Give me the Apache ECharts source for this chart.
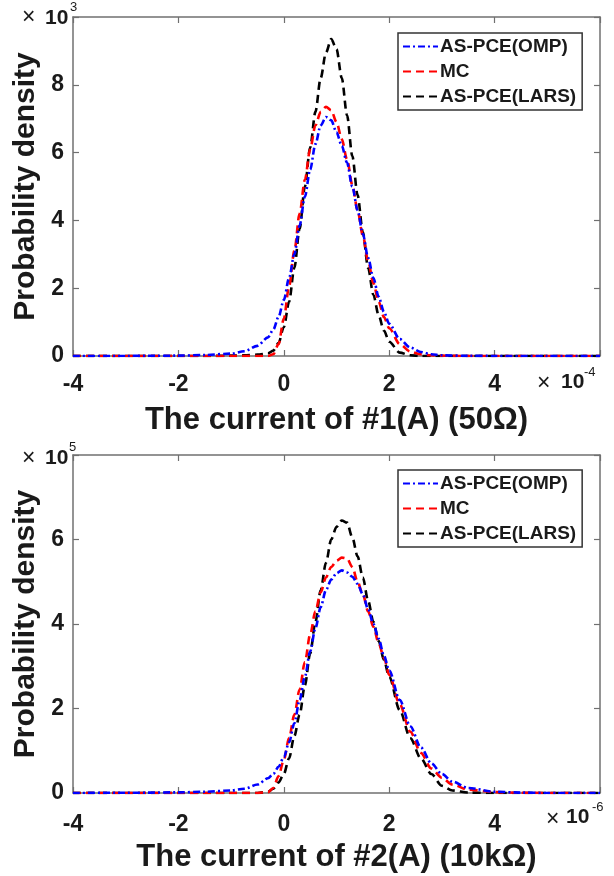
<!DOCTYPE html>
<html>
<head>
<meta charset="utf-8">
<script src="https://cdn.jsdelivr.net/npm/echarts@6/dist/echarts.min.js"></script>
<style>
  html, body { margin: 0; padding: 0; background: #fff; }
  #chart { width: 614px; height: 876px; }
</style>
</head>
<body>
<div id="chart"></div>
<script>
// x in units of 1e-4 A (top) and 1e-6 A (bottom); y in 1e3 / 1e5
const seriesNames = ['AS-PCE(OMP)', 'MC', 'AS-PCE(LARS)'];
const xTickLabels = [-4, -2, 0, 2, 4];
const yTickLabelsTop = [0, 2, 4, 6, 8];
const yTickLabelsBot = [0, 2, 4, 6];

// top plot: #1 (50Ω)
const xTop = [-4, -3, -2, -1.5, -1, -0.75, -0.5, -0.3, -0.2, -0.1,
  0, 0.1, 0.2, 0.3, 0.4, 0.5, 0.6, 0.7, 0.8, 0.9,
  1.0, 1.1, 1.2, 1.3, 1.4, 1.5, 1.6, 1.7, 1.8, 1.9,
  2.0, 2.2, 2.4, 2.6, 2.8, 3.0, 3.5, 4, 5, 6];
const ompTop = [0, 0.002, 0.01, 0.03, 0.07, 0.14, 0.3, 0.55, 0.78, 1.15,
  1.65, 2.3, 3.0, 3.85, 4.7, 5.5, 6.25, 6.8, 7.05, 6.95,
  6.6, 6.2, 5.7, 5.0, 4.3, 3.6, 2.9, 2.3, 1.75, 1.3,
  0.95, 0.5, 0.25, 0.12, 0.05, 0.02, 0.005, 0.002, 0, 0];
const mcTop = [0, 0, 0, 0, 0, 0, 0, 0, 0.05, 0.35,
  1.1, 2.05, 3.1, 4.2, 5.2, 6.1, 6.8, 7.2, 7.35, 7.25,
  6.9, 6.4, 5.8, 5.05, 4.3, 3.55, 2.8, 2.15, 1.6, 1.15,
  0.82, 0.35, 0.13, 0.05, 0.02, 0.01, 0, 0, 0, 0];
const larsTop = [0, 0, 0, 0, 0.01, 0.02, 0.04, 0.08, 0.16, 0.38,
  0.85, 1.6, 2.6, 3.75, 5.0, 6.15, 7.2, 8.2, 8.95, 9.35,
  9.05, 8.2, 7.1, 5.9, 4.75, 3.65, 2.6, 1.8, 1.2, 0.75,
  0.42, 0.1, 0.02, 0, 0, 0, 0, 0, 0, 0];

// bottom plot: #2 (10kΩ)
const xBot = [-4, -3, -2, -1.5, -1, -0.75, -0.5, -0.3, -0.2, -0.1,
  0, 0.1, 0.2, 0.3, 0.4, 0.5, 0.6, 0.7, 0.8, 0.9,
  1.0, 1.1, 1.2, 1.3, 1.4, 1.5, 1.6, 1.7, 1.8, 1.9,
  2.0, 2.2, 2.4, 2.6, 2.8, 3.0, 3.2, 3.5, 4, 4.5, 5, 6];
const ompBot = [0, 0.005, 0.015, 0.03, 0.06, 0.1, 0.2, 0.35, 0.45, 0.62,
  0.85, 1.2, 1.65, 2.2, 2.75, 3.35, 3.9, 4.4, 4.8, 5.05,
  5.2, 5.27, 5.22, 5.12, 4.95, 4.7, 4.35, 4.0, 3.65, 3.25,
  2.9, 2.2, 1.58, 1.08, 0.7, 0.45, 0.27, 0.12, 0.03, 0.01, 0, 0];
const mcBot = [0, 0, 0, 0, 0, 0, 0, 0.02, 0.12, 0.4,
  0.78, 1.3, 1.85, 2.45, 3.1, 3.75, 4.3, 4.75, 5.1, 5.35,
  5.5, 5.57, 5.55, 5.35, 5.0, 4.7, 4.3, 3.93, 3.55, 3.2,
  2.8, 2.1, 1.45, 0.95, 0.58, 0.36, 0.2, 0.08, 0.02, 0.005, 0, 0];
const larsBot = [0, 0, 0, 0, 0, 0, 0, 0.03, 0.1, 0.25,
  0.45, 0.82, 1.35, 1.85, 2.55, 3.3, 4.05, 4.8, 5.45, 6.0,
  6.3, 6.45, 6.4, 6.05, 5.6, 5.1, 4.55, 4.05, 3.6, 3.15,
  2.75, 1.96, 1.3, 0.82, 0.45, 0.17, 0.06, 0.01, 0, 0, 0, 0];

const FONT = '"Liberation Sans", Arial, sans-serif';
const axisGray = '#707070';
const textColor = '#1a1a1a';

function pairs(xs, ys) {
  return xs.map((x, i) => [x, ys[i]]);
}

function xAxes(grid, name, labelMargin) {
  const line = { show: true, onZero: false, lineStyle: { color: axisGray, width: 1.5 } };
  const tick = { show: true, inside: true, length: 6, lineStyle: { color: axisGray, width: 1.2 } };
  return [{
    type: 'value', gridIndex: grid, position: 'bottom',
    min: -4, max: 6, interval: 2,
    axisLine: line, axisTick: tick, splitLine: { show: false },
    axisLabel: {
      margin: labelMargin, fontSize: 23, fontWeight: 'bold', color: textColor, fontFamily: FONT,
      showMinLabel: true, showMaxLabel: true,
      formatter: v => xTickLabels.includes(v) ? String(v) : ''
    },
    name: name, nameLocation: 'middle', nameGap: 49,
    nameTextStyle: { fontSize: 31, fontWeight: 'bold', color: textColor, fontFamily: FONT }
  }, {
    type: 'value', gridIndex: grid, position: 'top',
    min: -4, max: 6, interval: 2,
    axisLine: line, axisTick: tick, splitLine: { show: false },
    axisLabel: { show: false }
  }];
}

function yAxes(grid, max, labels) {
  const line = { show: true, onZero: false, lineStyle: { color: axisGray, width: 1.5 } };
  const tick = { show: true, inside: true, length: 6, lineStyle: { color: axisGray, width: 1.2 } };
  return [{
    type: 'value', gridIndex: grid, position: 'left',
    min: 0, max: max, interval: 2,
    axisLine: line, axisTick: tick, splitLine: { show: false },
    axisLabel: {
      margin: 9, fontSize: 23, fontWeight: 'bold', color: textColor, fontFamily: FONT,
      showMinLabel: true, showMaxLabel: true,
      formatter: v => labels.includes(v) ? String(v) : ''
    },
    name: 'Probability density', nameLocation: 'middle', nameGap: 30,
    nameTextStyle: { fontSize: 30, fontWeight: 'bold', color: textColor, fontFamily: FONT }
  }, {
    type: 'value', gridIndex: grid, position: 'right',
    min: 0, max: max, interval: 2,
    axisLine: line, axisTick: tick, splitLine: { show: false },
    axisLabel: { show: false }
  }];
}

const styles = {
  'AS-PCE(OMP)': { color: '#0000ff', type: [7, 3, 2, 3], z: 4 },
  'MC': { color: '#ff0000', type: [8, 5], z: 3 },
  'AS-PCE(LARS)': { color: '#000000', type: [8, 5], z: 2 }
};

function lineSeries(name, xi, yi, data) {
  const s = styles[name];
  return {
    name: name, type: 'line', xAxisIndex: xi, yAxisIndex: yi,
    data: data, smooth: 0.3, smoothMonotone: 'x',
    symbol: 'none', showSymbol: false, z: s.z,
    color: s.color,
    lineStyle: { color: s.color, width: 2.6, type: s.type }
  };
}

function legendAt(top) {
  return {
    data: seriesNames, orient: 'vertical', left: 398, top: top,
    itemWidth: 35, itemHeight: 14, itemGap: 6,
    padding: [4, 6, 4, 4],
    borderColor: '#333', borderWidth: 1.5, backgroundColor: '#fff',
    selectedMode: false,
    itemStyle: { color: 'rgba(0,0,0,0)', borderColor: 'rgba(0,0,0,0)', borderWidth: 0 },
    textStyle: { fontSize: 19, fontWeight: 'bold', color: textColor, fontFamily: FONT, padding: [0, 0, 0, -3] }
  };
}

function txt(x, y, text, size, weight) {
  return {
    type: 'text', left: x, top: y, z: 100,
    style: { text: text, font: weight + ' ' + size + 'px ' + FONT, fill: textColor }
  };
}

const chart = echarts.init(document.getElementById('chart'), null, { renderer: 'canvas' });
chart.setOption({
  backgroundColor: '#fff',
  animation: false,
  grid: [
    { left: 73, top: 17, width: 527, height: 339 },
    { left: 73, top: 455, width: 527, height: 338 }
  ],
  xAxis: [].concat(xAxes(0, 'The current of #1(A) (50Ω)', 17), xAxes(1, 'The current of #2(A) (10kΩ)', 20)),
  yAxis: [].concat(yAxes(0, 10, yTickLabelsTop), yAxes(1, 8, yTickLabelsBot)),
  legend: [legendAt(33), legendAt(470)],
  series: [
    lineSeries('AS-PCE(LARS)', 0, 0, pairs(xTop, larsTop)),
    lineSeries('MC', 0, 0, pairs(xTop, mcTop)),
    lineSeries('AS-PCE(OMP)', 0, 0, pairs(xTop, ompTop)),
    lineSeries('AS-PCE(LARS)', 2, 2, pairs(xBot, larsBot)),
    lineSeries('MC', 2, 2, pairs(xBot, mcBot)),
    lineSeries('AS-PCE(OMP)', 2, 2, pairs(xBot, ompBot))
  ],
  graphic: [
    // top plot multipliers
    txt(22, 6, '×', 23, 'normal'),
    txt(45, 8, '10', 21, 'bold'),
    txt(70, 1, '3', 13, 'normal'),
    txt(537, 372, '×', 23, 'normal'),
    txt(561, 372, '10', 21, 'bold'),
    txt(584, 366, '-4', 13, 'normal'),
    // bottom plot multipliers
    txt(22, 447, '×', 23, 'normal'),
    txt(45, 448, '10', 21, 'bold'),
    txt(69, 441, '5', 13, 'normal'),
    txt(546, 808, '×', 23, 'normal'),
    txt(566, 807, '10', 21, 'bold'),
    txt(592, 801, '-6', 13, 'normal')
  ]
});
</script>
</body>
</html>
